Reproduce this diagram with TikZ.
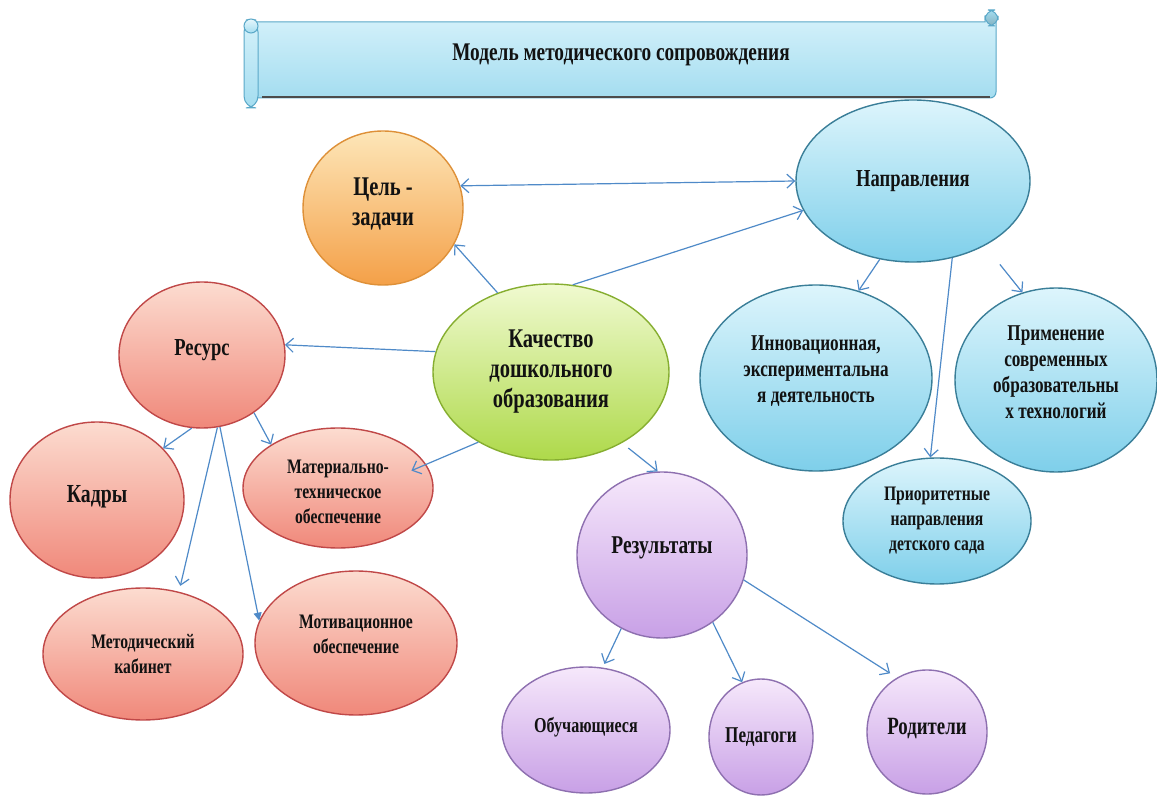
\documentclass[tikz,border=0pt]{standalone}
\usepackage{fontspec}
\setmainfont{Liberation Serif}[FakeStretch=0.76]
\usetikzlibrary{shapes.geometric,arrows.meta}
\newcommand{\dropby}[1]{\rule[-#1]{0pt}{#1}}
\newcommand{\raiseby}[1]{\rule{0pt}{#1}}
\definecolor{txt}{HTML}{121212}
\definecolor{arrC}{HTML}{4F8AC8}
\definecolor{oT}{HTML}{FDE6B8}\definecolor{oB}{HTML}{F4A048}\definecolor{oE}{HTML}{DE9038}
\definecolor{rT}{HTML}{FCDCD0}\definecolor{rB}{HTML}{F0887A}\definecolor{rE}{HTML}{C04848}
\definecolor{gT}{HTML}{F0FAD0}\definecolor{gB}{HTML}{AED94A}\definecolor{gE}{HTML}{86AE30}
\definecolor{bT}{HTML}{DDF5FC}\definecolor{bB}{HTML}{7ECFEA}\definecolor{bE}{HTML}{3A7E98}
\definecolor{pT}{HTML}{F6E8FB}\definecolor{pB}{HTML}{C8A0E6}\definecolor{pE}{HTML}{8E70B0}
\definecolor{sT}{HTML}{D4F1FA}\definecolor{sB}{HTML}{A4DDF0}\definecolor{sE}{HTML}{5AA8C8}
\tikzset{
  bub/.style={ellipse, draw, line width=0.7pt, inner sep=0pt, align=center, text=txt,
    font=\bfseries\fontsize{11.3}{13}\selectfont},
  orb/.style={bub, draw=oE, top color=oT, bottom color=oB},
  rdb/.style={bub, draw=rE, top color=rT, bottom color=rB},
  grb/.style={bub, draw=gE, top color=gT, bottom color=gB},
  blb/.style={bub, draw=bE, top color=bT, bottom color=bB},
  ppb/.style={bub, draw=pE, top color=pT, bottom color=pB},
  small/.style={font=\bfseries\fontsize{10.3}{12.5}\selectfont},
  big/.style={font=\bfseries\fontsize{13.5}{15}\selectfont},
  arr/.style={draw=arrC, line width=0.6pt, -{Straight Barb[length=3.8pt,width=7pt]}},
  arrb/.style={draw=arrC, line width=0.6pt, {Straight Barb[length=3.8pt,width=7pt]}-{Straight Barb[length=3.8pt,width=7pt]}},
  arrf/.style={draw=arrC, line width=0.6pt, -{Triangle[length=4pt,width=4pt]}},
  scrollbody/.style={draw=sE, line width=0.5pt, top color=sT, bottom color=sB},
}
\begin{document}
\begin{tikzpicture}[x=0.5pt,y=-0.5pt]
\useasboundingbox (0,0) rectangle (1157,796);
\fill[white] (0,0) rectangle (1157,796);
% scroll banner
\draw[scrollbody] (985,16) -- (996,16) -- (996,92) to[out=-90,in=0] (990,98) -- (256,98) -- (256,22) -- (985,22) -- cycle;
\draw[gray!60!black, line width=1pt] (262,97.5) -- (990,97.5);
\draw[scrollbody, rounded corners=6] (244,20) rectangle (258,108);
\draw[draw=sE, line width=0.5pt, top color=sT!60!white, bottom color=sB] (251,26) circle (7);
\draw[draw=sE, line width=0.5pt, top color=sB, bottom color=sB!80!black, rounded corners=5] (985,10) rectangle (998,26);
\node[font=\bfseries\fontsize{12.7}{14}\selectfont, text=txt] (title) at (621,55) {Модель методического сопровождения};
% nodes
\node[orb, big, minimum width=80pt, minimum height=77pt] (cel) at (383,208) {Цель -\\задачи\dropby{6pt}};
\node[blb, font=\bfseries\fontsize{12.2}{13}\selectfont, minimum width=117pt, minimum height=81pt] (napr) at (913,181) {Направления};
\node[grb, big, minimum width=118pt, minimum height=88pt] (kach) at (551,372) {Качество\\дошкольного\\образования};
\node[rdb, font=\bfseries\fontsize{12.2}{13}\selectfont, minimum width=83pt, minimum height=73pt] (res) at (202,355) {Ресурс\dropby{7pt}};
\node[rdb, font=\bfseries\fontsize{13}{13}\selectfont, minimum width=87pt, minimum height=78pt] (kadr) at (97,500) {Кадры\dropby{6pt}};
\node[rdb, small, minimum width=95pt, minimum height=60pt] (mat) at (338,488) {\raiseby{11pt}Материально-\\техническое\\обеспечение};
\node[rdb, small, minimum width=100pt, minimum height=66pt] (met) at (143,654) {Методический\\кабинет};
\node[rdb, small, minimum width=101pt, minimum height=72pt] (mot) at (356,643) {Мотивационное\\обеспечение\dropby{8.5pt}};
\node[blb, minimum width=116pt, minimum height=93pt] (inn) at (816,378) {Инновационная,\\экспериментальна\\я деятельность\dropby{8.5pt}};
\node[blb, minimum width=101pt, minimum height=92pt] (pri) at (1056,380) {Применение\\современных\\образовательны\\х технологий\dropby{7.5pt}};
\node[blb, small, minimum width=94pt, minimum height=63pt] (prt) at (937,521) {Приоритетные\\направления\\детского сада};
\node[ppb, font=\bfseries\fontsize{12.8}{15}\selectfont, minimum width=85pt, minimum height=83pt] (rez) at (662,555) {Результаты\dropby{10pt}};
\node[ppb, font=\bfseries\fontsize{10.6}{12}\selectfont, minimum width=84pt, minimum height=63pt] (obu) at (586,730) {Обучающиеся\dropby{5pt}};
\node[ppb, minimum width=52pt, minimum height=58pt] (ped) at (761,737) {Педагоги};
\node[ppb, font=\bfseries\fontsize{12.4}{13}\selectfont, minimum width=60pt, minimum height=62pt] (rod) at (927,732) {Родители\dropby{6pt}};
% connectors
\draw[arrb] (cel.16) -- (napr.180);
\draw[arr] (kach.124) -- (cel.-27);
\draw[arr] (kach.76) -- (napr.195);
\draw[arr] (kach.170) -- (res.7);
\draw[arr, shorten >=-8pt] (kach.224) -- (mat.15);
\draw[arr, shorten <=4pt] (kach.315) -- (rez.93);
\draw[arr] (res.262) -- (kadr.38);
\draw[arr] (res.312) -- (mat.147);
\draw[arr, shorten >=3pt] (res.282) -- (met.60);
\draw[arrf] (res.284) -- (mot.167);
\draw[arr] (napr.247) -- (inn.64);
\draw[arr, shorten <=12pt] (napr.318) -- (pri.111);
\draw[arr] (napr.297) -- (prt.96);
\draw[arr, shorten >=2pt] (rez.241) -- (obu.75);
\draw[arr] (rez.307) -- (ped.109);
\draw[arr, shorten >=4pt] (rez.343) -- (rod.119);
\end{tikzpicture}
\end{document}
